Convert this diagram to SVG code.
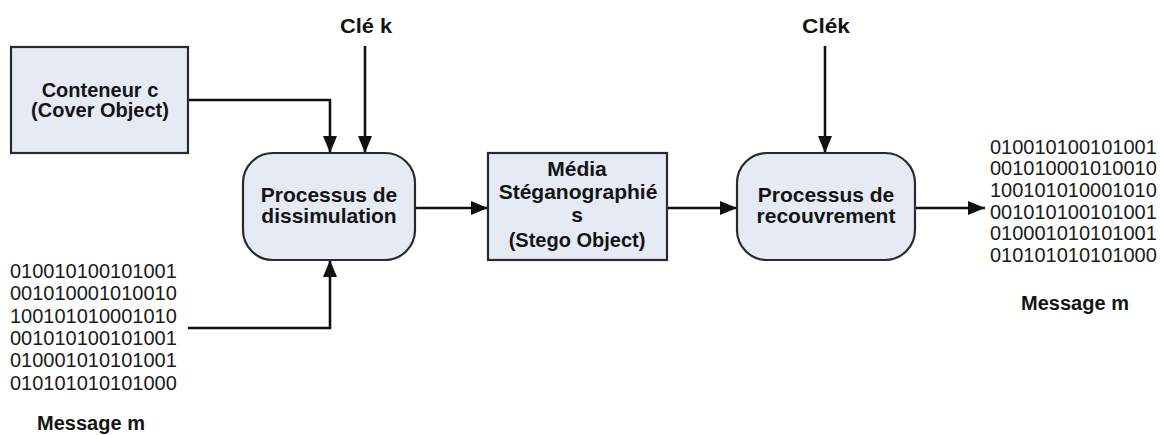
<svg xmlns="http://www.w3.org/2000/svg" width="1160" height="435" viewBox="0 0 1160 435">
  <style>
    .box { fill: #e6eaf5; stroke: #2a2a2a; stroke-width: 2.2; }
    .lbl { font-family: "Liberation Sans", Arial, sans-serif; font-weight: bold; font-size: 20px; fill: #141414; text-anchor: middle; }
    .big { font-size: 21px; }
    .bits { font-family: "Liberation Sans", Arial, sans-serif; font-size: 20px; fill: #1a1a1a; }
    .wire { fill: none; stroke: #111; stroke-width: 2.6; marker-end: url(#head); }
  </style>
  <defs>
    <marker id="head" markerUnits="userSpaceOnUse" markerWidth="17" markerHeight="17" viewBox="0 0 17 17" refX="17" refY="8.5" orient="auto">
      <path d="M0,1.5 L17,8.5 L0,15.5 Z" fill="#111"/>
    </marker>
  </defs>

  <rect width="1160" height="435" fill="#ffffff"/>

  <!-- connectors -->
  <g id="connectors">
    <path class="wire" d="M188,100 H330 V153"/>
    <path class="wire" d="M365,46 V153"/>
    <path class="wire" d="M188,328 H330 V260"/>
    <path class="wire" d="M415,208 H488"/>
    <path class="wire" d="M667,208 H737"/>
    <path class="wire" d="M825,46 V153"/>
    <path class="wire" d="M915,208 H985"/>
  </g>

  <!-- cover object -->
  <g id="cover">
    <rect class="box" x="11" y="47" width="177" height="106"/>
    <text class="lbl" x="100" y="97">Conteneur c</text>
    <text class="lbl" x="100" y="117">(Cover Object)</text>
  </g>

  <!-- key (embedding) -->
  <g id="key1">
    <text class="lbl" x="366" y="33" textLength="52" lengthAdjust="spacingAndGlyphs">Clé k</text>
  </g>

  <!-- embedding process -->
  <g id="embed">
    <rect class="box" x="243" y="153" width="172" height="107" rx="30" ry="30"/>
    <text class="lbl big" x="329" y="202">Processus de</text>
    <text class="lbl big" x="329" y="223">dissimulation</text>
  </g>

  <!-- secret message (input) -->
  <g id="message-in">
    <text class="bits" x="10" y="278">010010100101001</text>
    <text class="bits" x="10" y="300">001010001010010</text>
    <text class="bits" x="10" y="323">100101010001010</text>
    <text class="bits" x="10" y="345">001010100101001</text>
    <text class="bits" x="10" y="367">010001010101001</text>
    <text class="bits" x="10" y="390">010101010101000</text>
    <text class="lbl" x="91" y="430">Message m</text>
  </g>

  <!-- stego object -->
  <g id="stego">
    <rect class="box" x="488" y="153" width="179" height="107"/>
    <text class="lbl big" x="577" y="176">Média</text>
    <text class="lbl big" x="578" y="199">Stéganographié</text>
    <text class="lbl big" x="577" y="222">s</text>
    <text class="lbl" x="577" y="247">(Stego Object)</text>
  </g>

  <!-- key (extraction) -->
  <g id="key2">
    <text class="lbl" x="826" y="33" textLength="48" lengthAdjust="spacingAndGlyphs">Clék</text>
  </g>

  <!-- extraction process -->
  <g id="extract">
    <rect class="box" x="737" y="153" width="178" height="107" rx="30" ry="30"/>
    <text class="lbl big" x="826" y="202">Processus de</text>
    <text class="lbl big" x="826" y="223">recouvrement</text>
  </g>

  <!-- recovered message -->
  <g id="message-out">
    <text class="bits" x="990" y="154">010010100101001</text>
    <text class="bits" x="990" y="175">001010001010010</text>
    <text class="bits" x="990" y="197">100101010001010</text>
    <text class="bits" x="990" y="219">001010100101001</text>
    <text class="bits" x="990" y="240">010001010101001</text>
    <text class="bits" x="990" y="262">010101010101000</text>
    <text class="lbl" x="1075" y="310">Message m</text>
  </g>
</svg>
